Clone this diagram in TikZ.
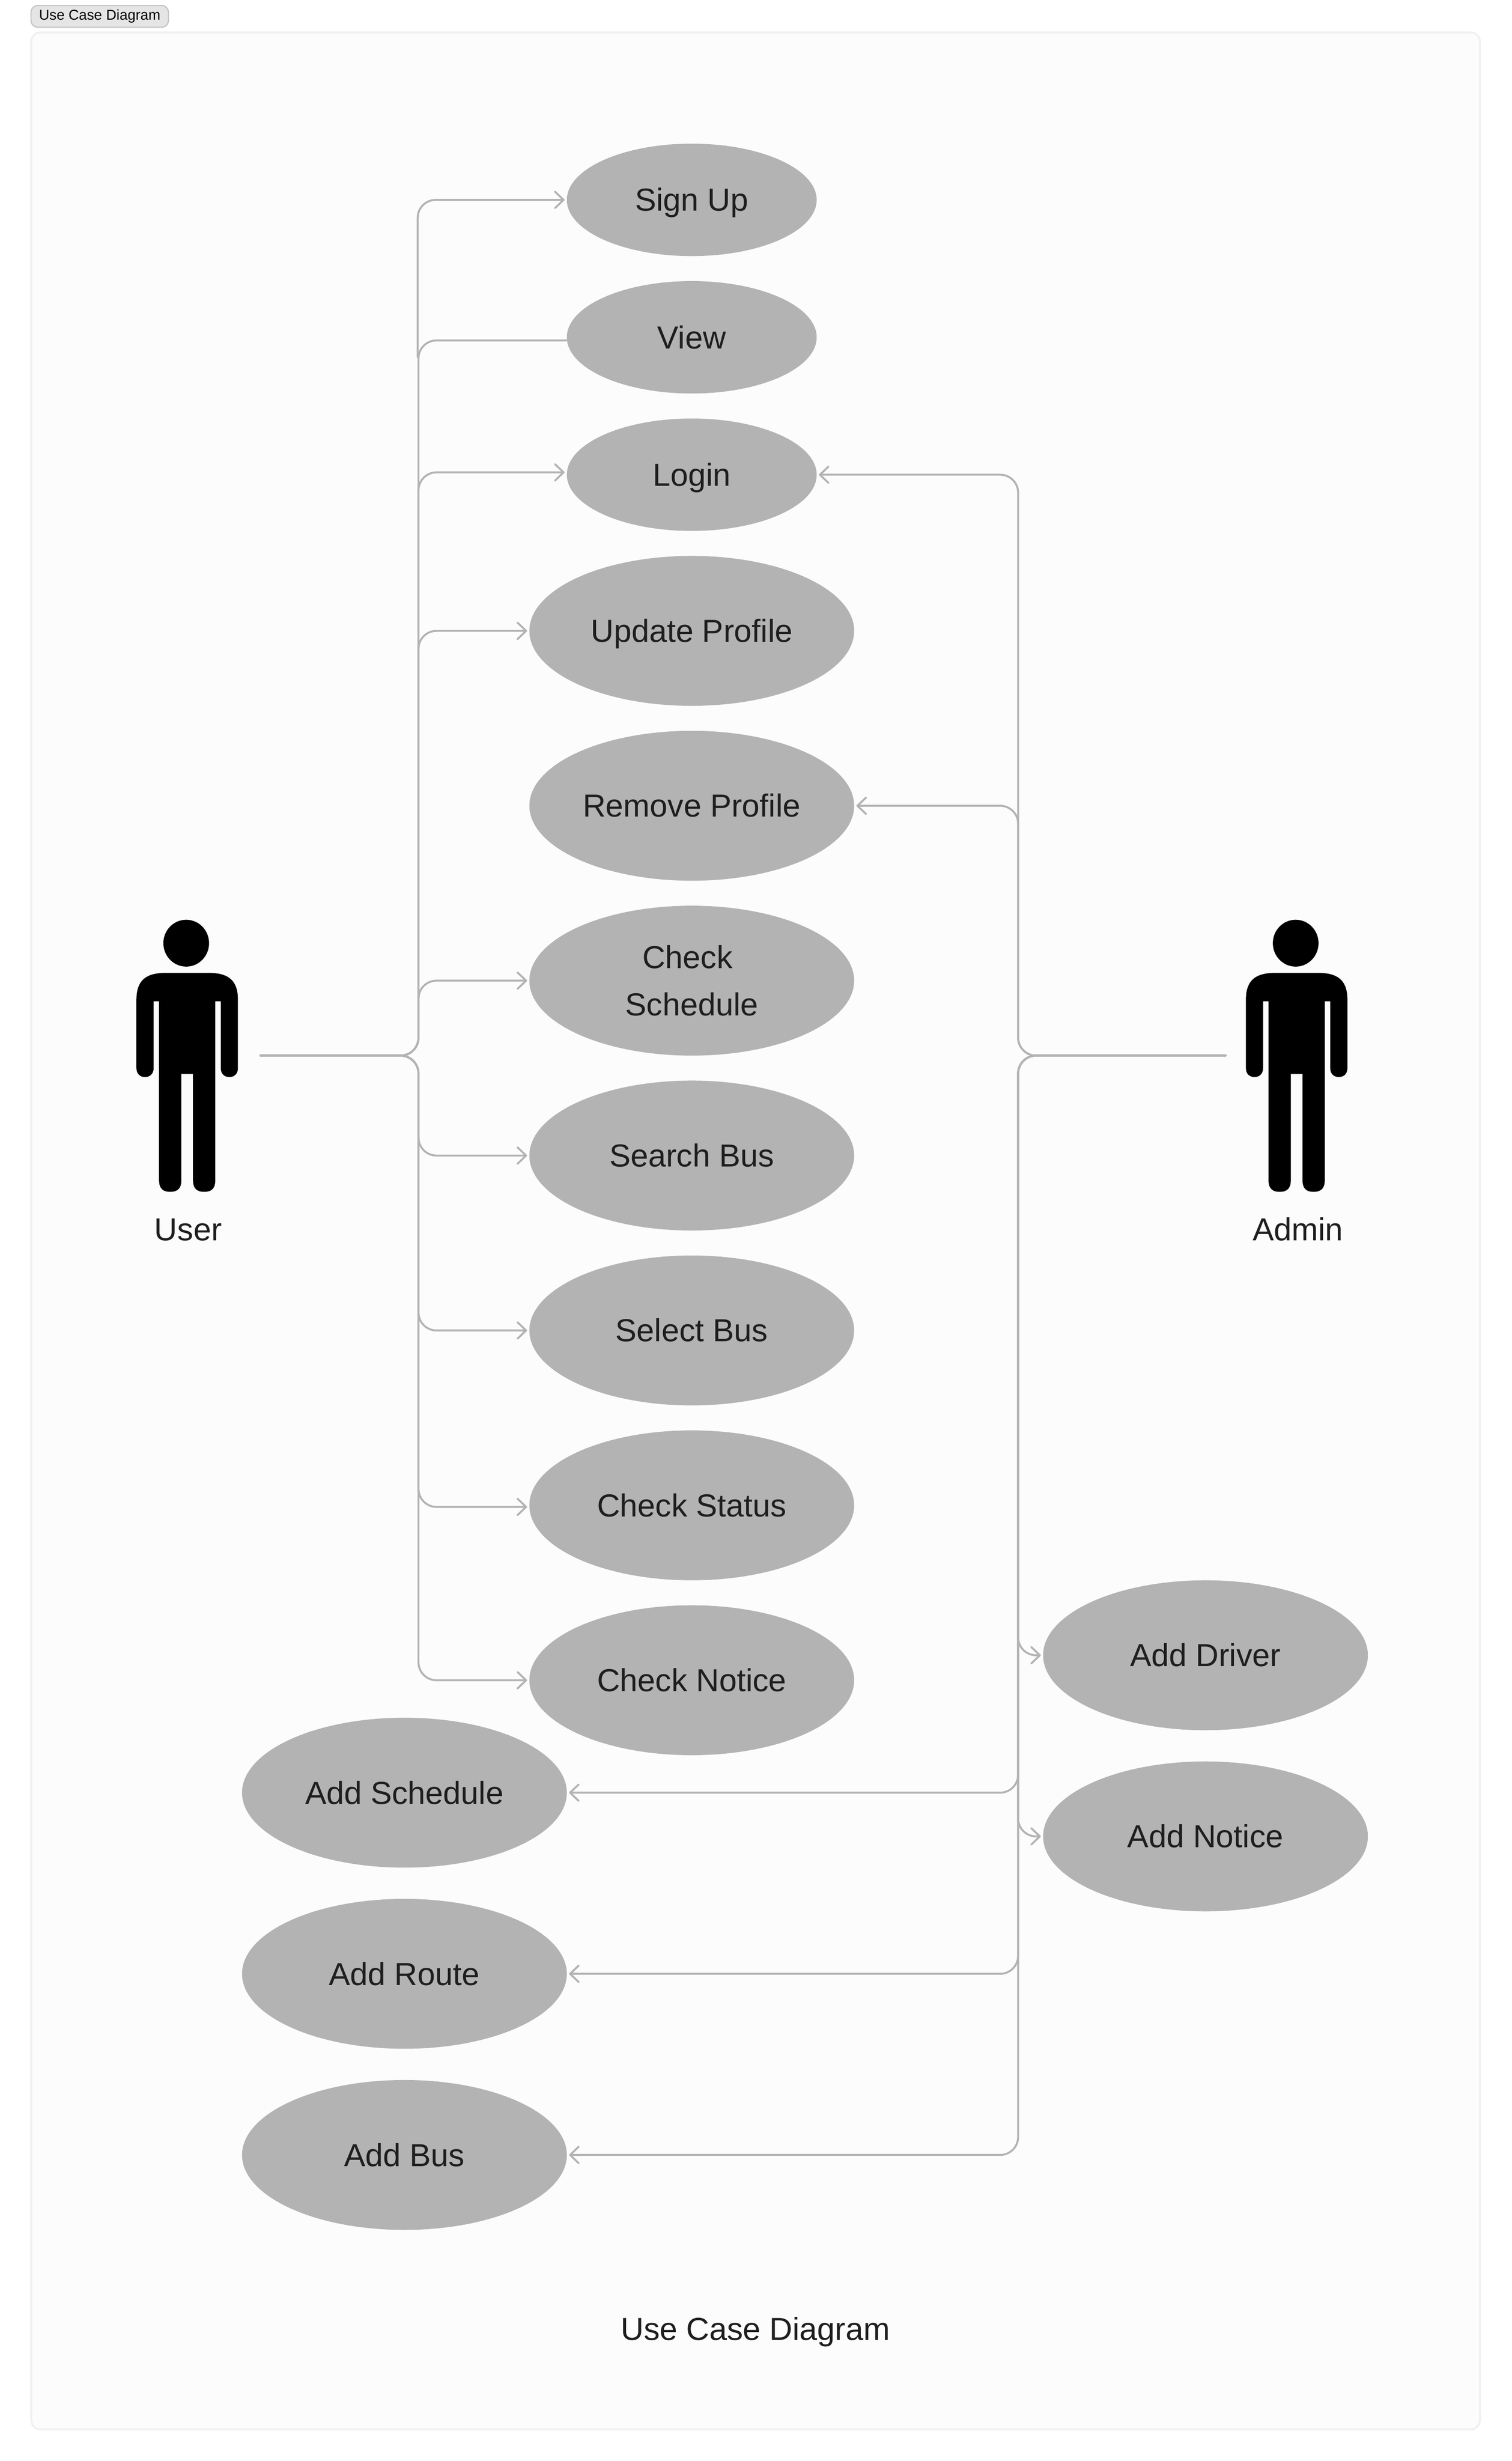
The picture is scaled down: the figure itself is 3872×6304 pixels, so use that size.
\documentclass[tikz,border=0pt]{standalone}
\usepackage{fontspec}
\setmainfont{Liberation Sans}
\usetikzlibrary{arrows.meta,shapes.geometric}
\definecolor{usegray}{HTML}{B3B3B3}
\definecolor{inktext}{HTML}{1E1E1E}
\tikzset{
    usecase/.style={ellipse,fill=usegray,draw=none,inner sep=0pt,text=inktext,align=center,text height=14.4pt,text depth=0pt,font=\fontsize{20.4}{30.25}\selectfont},
    smallcase/.style={usecase,minimum width=160pt,minimum height=72pt},
    bigcase/.style={usecase,minimum width=208pt,minimum height=96pt},
    lab/.style={text=inktext,inner sep=0pt,anchor=base,font=\fontsize{20.4}{30}\selectfont},
    conn/.style={draw=usegray,line width=1.25pt,line cap=round,rounded corners=11.5pt,shorten >=1.25pt,>={Straight Barb[length=5.5pt,width=10.5pt,round]}},
    actor/.pic={
        \fill[black] (-2.5,60) ellipse [x radius=58.5,y radius=60];
        \fill[black] (-53,136) -- (53,136) .. controls (100,136) and (130,150) .. (130,205) -- (130,380)
            .. controls (130,395) and (120,403) .. (108,403) .. controls (96,403) and (86,395) .. (86,380)
            -- (86,209) -- (72,209) -- (72,668) .. controls (72,690) and (60,697) .. (43.5,697)
            .. controls (27,697) and (15,690) .. (15,668) -- (15,395) -- (-15,395) -- (-15,668)
            .. controls (-15,690) and (-27,697) .. (-43.5,697) .. controls (-60,697) and (-72,690) .. (-72,668)
            -- (-72,209) -- (-86,209) -- (-86,380) .. controls (-86,395) and (-96,403) .. (-108,403)
            .. controls (-120,403) and (-130,395) .. (-130,380) -- (-130,205)
            .. controls (-130,150) and (-100,136) .. (-53,136) -- cycle;
    }
}
\begin{document}
\begin{tikzpicture}[x=0.25pt,y=-0.25pt]
    \useasboundingbox (0,0) rectangle (3872,6304);
    \draw[rounded corners=6pt,fill=black!1.2,draw=black!6,line width=1.25pt] (80,83) rectangle (3791,6223);
    \node[rounded corners=4.5pt,fill=black!10,draw=black!23,line width=0.75pt,minimum width=88pt,minimum height=14pt,inner sep=0pt,font=\fontsize{9.2}{11}\selectfont] (tag) at (255.5,42) {Use Case Diagram};

    \pic at (479.5,2356) {actor};
    \pic at (3321.5,2356) {actor};
    \node[lab] (userlabel) at (482,3178) {User};
    \node[lab] (adminlabel) at (3325,3178) {Admin};
    \node[lab] (caption) at (1935,5994) {Use Case Diagram};

    \foreach \n/\y/\t in {signup/512/Sign Up,view/864/View,login/1216/Login} {
        \node[smallcase] (\n) at (1772,\y) {\t};
    }
    \foreach \n/\y/\t in {update/1616/Update Profile,remove/2064/Remove Profile,search/2960/Search Bus,select/3408/Select Bus,status/3856/Check Status,notice/4304/Check Notice} {
        \node[bigcase] (\n) at (1772,\y) {\t};
    }
    \node[bigcase,text height=,text depth=] (schedule) at (1772,2512) {Check\kern5.5pt\\Schedule};
    \foreach \n/\y/\t in {addschedule/4592/Add Schedule,addroute/5056/Add Route,addbus/5520/Add Bus} {
        \node[bigcase] (\n) at (1036,\y) {\t};
    }
    \foreach \n/\y/\t in {adddriver/4240/Add Driver,addnotice/4704/Add Notice} {
        \node[bigcase] (\n) at (3088,\y) {\t};
    }

    \coordinate (userport) at (667,2704);
    \coordinate (userjoin) at (1072,2704);
    \coordinate (signupfoot) at (1070,915);
    \coordinate (adminport) at (3140,2704);
    \coordinate (adminjoin) at (2608,2704);

    \foreach \n/\d in {login/1.5pt,update/0pt,schedule/0pt,search/0pt,select/0pt,status/-1pt,notice/0pt} {
        \draw[conn,->] (userport) -- (userjoin) |- ([yshift=\d]\n.west);
    }
    \draw[conn,->] (signupfoot) |- (signup.west);
    \draw[conn,shorten >=0pt] (userport) -- (userjoin) |- ([yshift=-2pt]view.west);
    \foreach \n in {login,remove,addschedule,addroute,addbus} {
        \draw[conn,->] (adminport) -- (adminjoin) |- (\n.east);
    }
    \foreach \n in {adddriver,addnotice} {
        \draw[conn,->] (adminport) -- (adminjoin) |- (\n.west);
    }
\end{tikzpicture}
\end{document}
